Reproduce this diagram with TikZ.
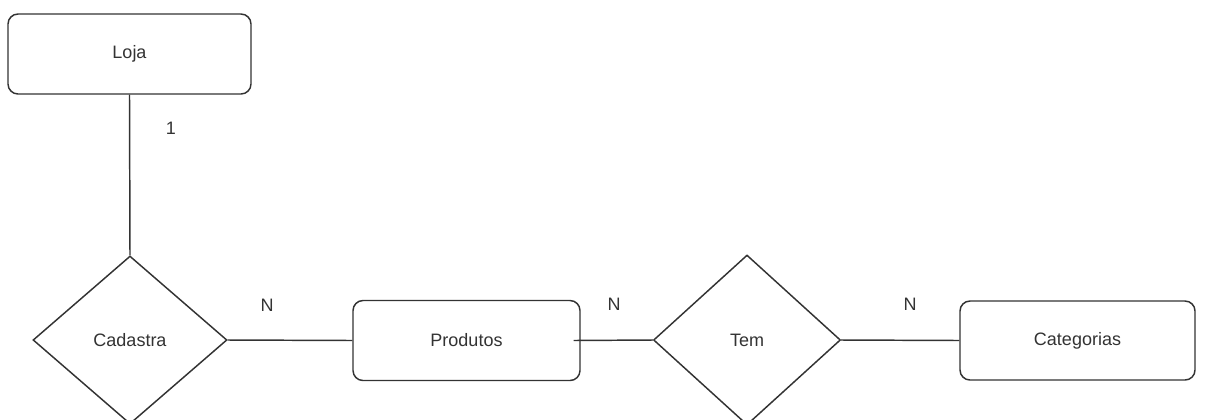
\documentclass[tikz,border=0pt]{standalone}
\usepackage{fontspec}
\setmainfont{Liberation Sans}
\usetikzlibrary{shapes.geometric}

\definecolor{linegray}{HTML}{333333}
\definecolor{textgray}{HTML}{333333}

\tikzset{
  entity/.style={draw=linegray, line width=1.1pt, rounded corners=7.5pt, fill=white,
    minimum height=60pt, inner sep=0pt, text=textgray, font=\fontsize{13.5}{16}\selectfont},
  relation/.style={draw=linegray, line width=1.1pt, diamond, fill=white, inner sep=0pt,
    text=textgray, font=\fontsize{13.5}{16}\selectfont},
  card/.style={text=textgray, inner sep=0pt, font=\fontsize{13.5}{16}\selectfont},
  link/.style={draw=linegray, line width=1.1pt}
}

\begin{document}
\begin{tikzpicture}[x=0.75pt,y=0.75pt,yscale=-1]
%set diagram size to the reference
\useasboundingbox (0,0) rectangle (1208,419);

%Entities
\node [entity, minimum width=182.25pt] (loja) at (129.5,54) {Loja};
\node [entity, minimum width=170.25pt] (produtos) at (466.5,340.5) {Produtos};
\node [entity, minimum width=176.25pt, minimum height=59.25pt] (categorias) at (1077.5,340.5) {Categorias};

%Relationships
\node [relation, minimum width=145.5pt, minimum height=126pt] (cadastra) at (130,340) {Cadastra};
\node [relation, minimum width=140.25pt, minimum height=127.5pt] (tem) at (747,340) {Tem};

%Connectors
\draw [link] (loja.south) -- (cadastra.north);
\draw [link] (cadastra.east) -- (produtos.west);
\draw [link] ([xshift=-5.25pt]produtos.east) -- (tem.west);
\draw [link] (tem.east) -- (categorias.west);

%Cardinalities
\node [card] (c1) at (171,128) {1};
\node [card] (c2) at (267,305) {N};
\node [card] (c3) at (614,304) {N};
\node [card] (c4) at (910,304) {N};

\end{tikzpicture}
\end{document}
